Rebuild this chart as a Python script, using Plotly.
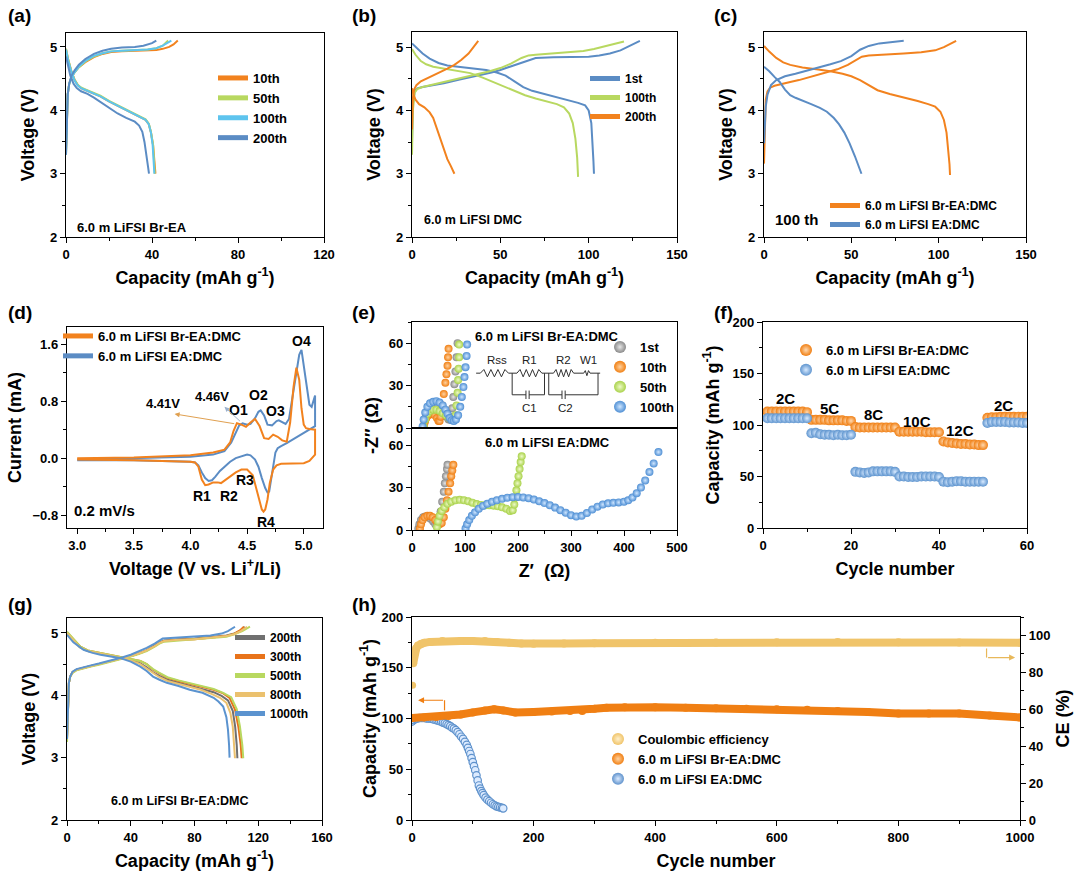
import plotly.graph_objects as go

FONT = "Liberation Sans, Arial, sans-serif"
W, H = 1080, 878

# ---------------- DATA ----------------
# (a) 6.0 m LiFSI Br-EA
a10_ch_x = [0, 0.3, 0.8, 1.5, 2.5, 4, 6, 9, 13, 17, 21, 26, 32, 38, 42, 45, 48, 50, 52]
a10_ch_y = [3.35, 3.9, 4.25, 4.42, 4.52, 4.6, 4.68, 4.76, 4.84, 4.89, 4.92, 4.93, 4.935, 4.94, 4.95, 4.97, 5.0, 5.04, 5.1]
a10_dc_x = [0, 1, 2.5, 4, 5.5, 7, 9, 12, 16, 20, 24, 28, 32, 35, 37, 38.5, 39.5, 40.5, 41.2, 41.6]
a10_dc_y = [4.97, 4.8, 4.62, 4.48, 4.4, 4.35, 4.32, 4.28, 4.22, 4.14, 4.07, 4.0, 3.94, 3.89, 3.85, 3.78, 3.65, 3.45, 3.2, 3.0]
a50_ch_x = [0, 0.3, 0.8, 1.5, 2.5, 4, 6, 9, 13, 17, 21, 26, 32, 38, 42, 45, 47.5]
a50_ch_y = [3.3, 3.9, 4.25, 4.42, 4.52, 4.6, 4.68, 4.77, 4.85, 4.9, 4.93, 4.94, 4.95, 4.96, 4.98, 5.02, 5.1]
a50_dc_x = [0, 1, 2.5, 4, 5.5, 7, 9, 12, 16, 20, 24, 28, 32, 35, 37, 38.5, 39.5, 40.5, 41, 41.3]
a50_dc_y = [4.97, 4.8, 4.62, 4.48, 4.4, 4.36, 4.33, 4.29, 4.23, 4.15, 4.08, 4.01, 3.95, 3.9, 3.86, 3.79, 3.66, 3.46, 3.2, 3.0]
a100_ch_x = [0, 0.3, 0.8, 1.5, 2.5, 4, 6, 9, 13, 17, 21, 26, 32, 38, 42, 45, 49]
a100_ch_y = [3.3, 3.9, 4.25, 4.42, 4.52, 4.6, 4.69, 4.78, 4.86, 4.9, 4.93, 4.94, 4.95, 4.96, 4.98, 5.02, 5.1]
a100_dc_x = [0, 1, 2.5, 4, 5.5, 7, 9, 12, 16, 20, 24, 28, 32, 35, 37, 38.5, 39.5, 40.3, 40.8, 41.1]
a100_dc_y = [4.96, 4.79, 4.61, 4.47, 4.39, 4.35, 4.32, 4.28, 4.22, 4.14, 4.07, 4.0, 3.94, 3.89, 3.85, 3.78, 3.65, 3.45, 3.2, 3.0]
a200_ch_x = [0, 0.3, 0.8, 1.5, 2.5, 4, 6, 9, 13, 17, 21, 26, 32, 36, 40, 42]
a200_ch_y = [3.3, 3.9, 4.25, 4.42, 4.54, 4.63, 4.72, 4.81, 4.89, 4.94, 4.97, 4.99, 5.0, 5.02, 5.06, 5.1]
a200_dc_x = [0, 1, 2, 3.5, 5, 7, 10, 13, 16, 20, 24, 28, 32, 34, 35.5, 36.5, 37.5, 38.2, 38.6]
a200_dc_y = [4.85, 4.7, 4.55, 4.42, 4.35, 4.3, 4.26, 4.2, 4.13, 4.05, 3.95, 3.88, 3.82, 3.76, 3.66, 3.5, 3.3, 3.1, 3.0]

# (b) 6.0 m LiFSI DMC
b1_ch_x = [0, 0.5, 1.5, 3, 6, 10, 18, 27, 37, 45, 50, 55, 60, 65, 68, 70, 80, 90, 100, 106, 112, 118, 122, 126, 129]
b1_ch_y = [3.5, 4.1, 4.3, 4.35, 4.37, 4.39, 4.43, 4.49, 4.55, 4.6, 4.64, 4.69, 4.74, 4.79, 4.82, 4.83, 4.84, 4.845, 4.85, 4.87, 4.9, 4.95, 5.0, 5.05, 5.1]
b1_dc_x = [0, 3, 6, 10, 15, 20, 27, 35, 42, 48, 53, 58, 63, 68, 75, 82, 88, 94, 98, 100, 101.5, 102.3, 102.7, 103]
b1_dc_y = [5.06, 4.98, 4.9, 4.82, 4.75, 4.71, 4.69, 4.67, 4.64, 4.6, 4.55, 4.46, 4.37, 4.31, 4.26, 4.2, 4.16, 4.12, 4.08, 4.0, 3.8, 3.5, 3.2, 3.0]
b100_ch_x = [0, 0.5, 1.5, 3, 6, 12, 20, 28, 36, 44, 50, 56, 62, 66, 70, 80, 90, 97, 103, 109, 115, 120]
b100_ch_y = [3.3, 4.0, 4.28, 4.34, 4.37, 4.41, 4.46, 4.51, 4.56, 4.62, 4.67, 4.74, 4.83, 4.87, 4.88, 4.9, 4.92, 4.94, 4.97, 5.01, 5.05, 5.09]
b100_dc_x = [0, 2, 5, 8, 12, 18, 25, 33, 40, 46, 52, 58, 64, 70, 76, 82, 86, 89, 91, 92.5, 93.5, 94]
b100_dc_y = [4.97, 4.88, 4.78, 4.73, 4.69, 4.66, 4.63, 4.59, 4.52, 4.45, 4.38, 4.3, 4.24, 4.19, 4.15, 4.1, 4.05, 3.95, 3.8, 3.55, 3.25, 2.95]
b200_ch_x = [0, 0.5, 1.2, 2.5, 5, 8, 12, 16, 20, 24, 28, 32, 35, 37.5]
b200_ch_y = [3.7, 4.2, 4.33, 4.4, 4.46, 4.5, 4.55, 4.6, 4.66, 4.72, 4.8, 4.9, 5.0, 5.1]
b200_dc_x = [0, 0.8, 2, 4, 7, 10, 12, 14, 16, 18, 20, 22, 24]
b200_dc_y = [4.35, 4.25, 4.17, 4.1, 4.05, 3.97, 3.88, 3.72, 3.55, 3.38, 3.23, 3.12, 3.0]

# (c) 100th cycle
c_br_ch_x = [0, 0.4, 1, 2, 3.5, 6, 10, 15, 20, 28, 35, 42, 48, 52, 56, 60, 70, 80, 90, 98, 103, 107, 110]
c_br_ch_y = [3.16, 3.8, 4.17, 4.3, 4.36, 4.39, 4.42, 4.45, 4.48, 4.54, 4.59, 4.65, 4.72, 4.78, 4.85, 4.87, 4.88, 4.9, 4.92, 4.95, 5.0, 5.05, 5.1]
c_br_dc_x = [0, 3, 7, 11, 15, 22, 30, 38, 45, 50, 55, 60, 65, 72, 80, 88, 94, 98, 101, 103, 104.5, 105.5, 106.2, 106.5]
c_br_dc_y = [5.02, 4.93, 4.83, 4.76, 4.72, 4.68, 4.65, 4.62, 4.58, 4.54, 4.48, 4.4, 4.32, 4.26, 4.21, 4.15, 4.1, 4.06, 3.98, 3.85, 3.65, 3.4, 3.15, 2.98]
c_ea_ch_x = [0, 0.4, 1, 2, 4, 7, 12, 18, 25, 32, 38, 44, 50, 55, 60, 66, 73, 80]
c_ea_ch_y = [3.48, 3.85, 4.06, 4.25, 4.4, 4.48, 4.54, 4.58, 4.63, 4.68, 4.73, 4.78, 4.86, 4.96, 5.02, 5.06, 5.08, 5.1]
c_ea_dc_x = [0, 3, 6, 9, 12, 15, 18, 22, 27, 32, 36, 40, 43, 46, 49, 52, 54, 55.8]
c_ea_dc_y = [4.69, 4.62, 4.53, 4.45, 4.33, 4.24, 4.2, 4.15, 4.1, 4.04, 3.98, 3.88, 3.78, 3.65, 3.48, 3.28, 3.13, 3.0]

# (d) CV
d_br_v = [3.0, 3.5, 4.0, 4.2, 4.3, 4.35, 4.38, 4.41, 4.45, 4.49, 4.53, 4.57, 4.61, 4.65, 4.69, 4.73, 4.77, 4.81, 4.85,
          4.88, 4.91, 4.935, 4.96, 4.98, 5.0, 5.02, 5.05, 5.1,
          5.1, 5.05, 5.0, 4.9, 4.8, 4.76, 4.73, 4.7, 4.68, 4.66, 4.645, 4.63, 4.61, 4.58, 4.55, 4.5, 4.45, 4.4, 4.35,
          4.3, 4.27, 4.24, 4.2, 4.16, 4.13, 4.1, 4.07, 4.04, 4.0, 3.5, 3.0]
d_br_i = [0.0, 0.01, 0.04, 0.08, 0.12, 0.22, 0.38, 0.49, 0.47, 0.44, 0.5, 0.55, 0.45, 0.28, 0.27, 0.33, 0.3, 0.25, 0.23,
          0.5, 1.0, 1.27, 1.1, 0.7, 0.47, 0.42, 0.41, 0.4,
          0.05, -0.04, -0.07, -0.07, -0.08, -0.1, -0.16, -0.35, -0.58, -0.72, -0.75, -0.72, -0.6, -0.4, -0.24, -0.16,
          -0.16, -0.2, -0.26, -0.31, -0.35, -0.34, -0.34, -0.37, -0.38, -0.3, -0.12, -0.06, -0.05, -0.03, -0.02]
d_ea_v = [3.0, 3.5, 4.0, 4.2, 4.3, 4.36, 4.4, 4.43, 4.46, 4.5, 4.53, 4.57, 4.6, 4.62, 4.65, 4.68, 4.72, 4.76, 4.78,
          4.81, 4.84, 4.87, 4.9, 4.93, 4.96, 4.98, 5.0, 5.03, 5.05, 5.07, 5.1,
          5.1, 5.05, 5.0, 4.95, 4.9, 4.85, 4.8, 4.77, 4.75, 4.73, 4.71, 4.695, 4.68, 4.66, 4.63, 4.6, 4.57, 4.53, 4.5,
          4.45, 4.4, 4.35, 4.3, 4.26, 4.22, 4.19, 4.16, 4.13, 4.1, 4.07, 4.04, 4.0, 3.5, 3.0]
d_ea_i = [-0.02, 0.0, 0.02, 0.05, 0.1, 0.22, 0.36, 0.46, 0.49, 0.47, 0.48, 0.56, 0.65, 0.67, 0.6, 0.47, 0.46, 0.52, 0.53,
          0.5, 0.48, 0.55, 0.85, 1.2, 1.45, 1.52, 1.3, 0.95, 0.75, 0.72, 0.88,
          0.45, 0.4, 0.35, 0.31, 0.26, 0.21, 0.17, 0.14, 0.08, -0.1, -0.3, -0.47, -0.48, -0.42, -0.28, -0.12, -0.02,
          0.04, 0.05, 0.03, 0.0, -0.05, -0.12, -0.18, -0.26, -0.31, -0.32, -0.28, -0.2, -0.1, -0.06, -0.05, -0.03, -0.03]

# (e) EIS, Br-EA:DMC (upper)
eu1_x = [22, 24, 27, 31, 36, 42, 48, 54, 60, 65, 69, 72, 74, 76, 78, 80, 82, 84, 86]
eu1_y = [1, 5, 9, 12, 14, 15, 14.5, 13, 11, 8, 6, 6, 8, 14, 22, 31, 40, 50, 60]
eu10_x = [22, 24, 27, 31, 35, 39, 43, 47, 50, 52, 54, 57, 60, 63, 65, 67, 68, 69]
eu10_y = [1, 4, 7, 9, 10, 10, 9, 7, 5, 5, 8, 16, 24, 32, 38, 44, 50, 56]
eu50_x = [22, 25, 29, 34, 40, 46, 52, 58, 64, 70, 75, 79, 82, 84, 86, 87, 88, 89, 89]
eu50_y = [1, 6, 10, 12, 13, 13, 12, 10.5, 9, 7, 6, 6, 9, 16, 25, 34, 42, 50, 59]
eu100_x = [20, 22, 25, 29, 34, 40, 46, 52, 58, 63, 67, 71, 75, 79, 83, 87, 91, 94, 97, 99, 101, 103, 104]
eu100_y = [1, 6, 11, 15, 17.5, 18.5, 19, 18, 16, 13, 10, 7, 5.5, 5, 6, 9, 15, 22, 29, 36, 43, 51, 59]
# (e) EIS, EA:DMC (lower)
el1_x = [12, 14, 17, 21, 25, 30, 35, 40, 44, 48, 51, 54, 57, 60, 62, 64, 66, 67]
el1_y = [1, 4, 7, 9, 9.5, 9, 8, 6, 4, 4, 7, 13, 20, 27, 33, 38, 43, 46]
el10_x = [15, 17, 20, 24, 29, 34, 39, 44, 48, 52, 56, 60, 63, 66, 69, 72, 74, 76, 78]
el10_y = [1, 4, 7, 9, 10, 10, 9, 7, 5, 4, 5, 9, 15, 21, 27, 33, 38, 42, 46]
el50_x = [47, 49, 52, 56, 61, 67, 74, 82, 90, 98, 106, 114, 122, 130, 138, 146, 154, 162, 170, 178, 185, 190, 193, 195,
          197, 199, 201, 203, 205, 207]
el50_y = [2, 6, 10, 13.5, 16, 18.5, 20, 21, 21.3, 21, 20.3, 19.3, 18.3, 17.7, 17.4, 17.4, 17.2, 16.8, 16, 15, 13.5, 14,
          18, 23, 28, 33, 38, 43, 48, 52]
el100_x = [101, 104, 108, 113, 119, 126, 134, 142, 151, 160, 170, 180, 190, 200, 210, 220, 230, 240, 250, 260, 270, 280,
           290, 300, 310, 320, 330, 340, 350, 360, 370, 380, 390, 400, 408, 416, 424, 432, 440, 448, 456, 465]
el100_y = [1, 4, 7, 10, 12.5, 15, 17, 18.5, 20, 21, 22, 22.8, 23.2, 23.3, 23, 22.5, 21.5, 20.3, 19, 17.5, 15.8, 14,
           12.2, 10.5, 9.5, 10, 12, 14.5, 16.5, 18, 18.8, 19.2, 19.5, 20, 21, 23, 26, 30, 35, 41, 47, 55]

# (f) rate capability
f_cycles = list(range(1, 61))
f_br = [113, 113, 113, 113, 113, 113, 113, 113, 113, 112.5,
        105, 105, 105, 105, 104.5, 104.5, 104.5, 104.5, 104, 104,
        98, 97.5, 97.5, 97.5, 97.5, 97.5, 97.5, 97.5, 97.5, 97.5,
        93.5, 93.5, 93.5, 93.5, 93.5, 93.5, 93, 93, 93, 93,
        84, 83, 82.5, 82, 81.5, 81.5, 81, 81, 80.5, 80.5,
        107, 107.5, 107.5, 108, 108, 108, 108, 108, 108, 108]
f_ea = [106.5, 106.5, 106.5, 106.5, 106.5, 106.5, 106.5, 106.5, 106.5, 106.5,
        92, 92.5, 91, 90.5, 90.5, 90, 90.5, 90, 90, 90.5,
        54.5, 54, 53.5, 54, 55, 55, 55, 55, 55, 54.5,
        50, 50, 49.5, 49.5, 49.5, 50, 50, 50, 50, 49.5,
        45, 44.5, 45, 45.5, 45.5, 45, 45, 45, 45, 45,
        102, 103, 103, 103, 103, 102.5, 102.5, 102.5, 102, 102]
f_rates = ["2C", "5C", "8C", "10C", "12C", "2C"]
f_rate_x = [5.2, 15.2, 25, 35, 44.8, 54.7]
f_rate_y = [126, 116, 110, 103, 95, 119]

# (g) Br-EA:DMC long cycles
g200_ch_x = [0, 0.5, 1.2, 2, 3.5, 6, 10, 15, 20, 25, 30, 35, 40, 45, 50, 55, 58, 61, 65, 70, 80, 90, 100, 105, 109, 111.5]
g200_ch_y = [3.3, 3.9, 4.2, 4.3, 4.37, 4.41, 4.44, 4.47, 4.5, 4.53, 4.56, 4.59, 4.63, 4.67, 4.72, 4.8, 4.85, 4.88, 4.89,
             4.9, 4.91, 4.93, 4.96, 4.99, 5.04, 5.1]
g300_ch_x = [0, 0.5, 1.2, 2, 3.5, 6, 10, 15, 20, 25, 30, 35, 40, 45, 50, 55, 58, 61, 65, 70, 80, 90, 100, 105, 108.5, 111]
g300_ch_y = [3.3, 3.9, 4.2, 4.3, 4.37, 4.41, 4.44, 4.47, 4.5, 4.53, 4.56, 4.59, 4.63, 4.67, 4.72, 4.79, 4.84, 4.87, 4.88,
             4.89, 4.9, 4.92, 4.95, 4.99, 5.04, 5.1]
g500_ch_x = [0, 0.5, 1.2, 2, 3.5, 6, 10, 15, 20, 25, 30, 35, 40, 45, 50, 55, 58, 61, 65, 70, 80, 90, 100, 105, 110, 114.8]
g500_ch_y = [3.25, 3.9, 4.2, 4.3, 4.36, 4.4, 4.43, 4.46, 4.49, 4.52, 4.55, 4.58, 4.62, 4.66, 4.71, 4.78, 4.83, 4.86, 4.87,
             4.88, 4.9, 4.92, 4.94, 4.98, 5.03, 5.1]
g800_ch_x = [0, 0.5, 1.2, 2, 3.5, 6, 10, 15, 20, 25, 30, 35, 40, 45, 50, 55, 58, 61, 65, 70, 80, 90, 100, 105, 109, 113]
g800_ch_y = [3.3, 3.9, 4.2, 4.3, 4.37, 4.41, 4.44, 4.47, 4.5, 4.53, 4.56, 4.59, 4.63, 4.67, 4.72, 4.79, 4.84, 4.87, 4.88,
             4.89, 4.9, 4.92, 4.95, 4.98, 5.03, 5.1]
g1000_ch_x = [0, 0.5, 1.2, 2, 3.5, 6, 10, 15, 20, 25, 30, 35, 40, 45, 50, 55, 58, 60, 65, 70, 80, 90, 97, 101, 105.4]
g1000_ch_y = [3.3, 3.9, 4.2, 4.3, 4.38, 4.42, 4.45, 4.48, 4.51, 4.54, 4.57, 4.61, 4.65, 4.7, 4.76, 4.83, 4.88, 4.91,
              4.92, 4.93, 4.94, 4.96, 4.99, 5.03, 5.1]
g200_dc_x = [0, 4, 8, 13, 17, 24, 31, 38, 46, 50, 54, 58, 63, 70, 76, 84, 92, 97, 101, 104, 105.5, 106.5, 106.9]
g200_dc_y = [5.0, 4.88, 4.77, 4.71, 4.69, 4.65, 4.62, 4.58, 4.51, 4.45, 4.37, 4.31, 4.25, 4.2, 4.16, 4.11, 4.05, 3.99,
             3.92, 3.75, 3.5, 3.2, 2.99]
g300_dc_x = [0, 4, 8.4, 13, 17, 24, 31, 38, 46, 50, 54, 58, 63, 70, 75, 84, 92, 98, 102, 105.4, 107.5, 109, 109.6]
g300_dc_y = [5.01, 4.9, 4.78, 4.72, 4.7, 4.66, 4.63, 4.6, 4.55, 4.5, 4.41, 4.35, 4.28, 4.23, 4.2, 4.15, 4.09, 4.03,
             3.96, 3.77, 3.5, 3.2, 2.99]
g500_dc_x = [0, 4, 8.4, 13, 17, 24, 31, 38, 46, 50, 54, 58, 63, 70, 75, 84, 92, 98, 103, 106.5, 108.5, 110, 110.6]
g500_dc_y = [5.02, 4.9, 4.78, 4.72, 4.7, 4.66, 4.63, 4.6, 4.55, 4.5, 4.42, 4.36, 4.29, 4.24, 4.21, 4.16, 4.1, 4.04,
             3.97, 3.78, 3.5, 3.2, 2.99]
g800_dc_x = [0, 4, 8, 13, 17, 24, 31, 38, 46, 50, 54, 58, 63, 70, 76, 84, 91, 96, 100, 102.5, 104, 105, 105.4]
g800_dc_y = [5.0, 4.88, 4.77, 4.71, 4.69, 4.65, 4.62, 4.58, 4.5, 4.43, 4.35, 4.29, 4.23, 4.18, 4.14, 4.09, 4.02, 3.96,
             3.88, 3.72, 3.5, 3.2, 2.99]
g1000_dc_x = [0, 4, 10.4, 16, 21, 27, 33, 40, 46, 50, 54, 58, 62.6, 70, 77, 85, 92, 95, 98, 100, 101, 101.7, 102]
g1000_dc_y = [4.97, 4.85, 4.73, 4.68, 4.65, 4.62, 4.6, 4.54, 4.46, 4.39, 4.3, 4.25, 4.2, 4.15, 4.09, 4.04, 3.96, 3.9,
              3.82, 3.65, 3.45, 3.2, 3.0]

# (h) long-term cycling
h_br_cycle = [0, 20, 40, 60, 80, 100, 120, 135, 150, 170, 200, 230, 260, 280, 300, 320, 350, 400, 450, 500, 550, 600,
              650, 700, 750, 800, 850, 900, 950, 1000]
h_br_cap = [100.5, 101, 101.5, 102.5, 104, 106, 108, 109, 108, 106, 106.5, 107, 107.5, 107.5, 109.5, 110.5, 111, 111,
            110.5, 110, 109.5, 109, 108.5, 107.5, 106.5, 105, 105, 105, 103, 101]
h_ea_cycle = [0, 3, 6, 9, 12, 15, 18, 21, 24, 27, 30, 33, 36, 39, 42, 45, 48, 51, 54, 57, 60, 63, 66, 69, 72, 75, 78,
              81, 84, 87, 90, 92, 94, 96, 98, 100, 102, 104, 106, 108, 110, 112, 114, 116, 118, 121, 124, 127, 130, 133,
              136, 139, 142, 145, 148, 150]
h_ea_cap = [97, 98.5, 99.5, 100, 100.5, 100.5, 100.5, 100.5, 100, 100, 100, 99.5, 99, 98.5, 98, 97.5, 97, 96, 95.5,
            94.5, 93.5, 92.5, 91, 90, 88.5, 86.5, 84.5, 82, 80, 77, 74, 71, 68, 65, 61, 57, 53, 49, 44, 39, 34, 31,
            28.5, 26.5, 24.5, 22, 20, 18.5, 17, 15.5, 14.5, 13.5, 13, 12.5, 12, 11.5]
h_ce_cycle = [1, 2, 3, 4, 5, 7, 10, 15, 20, 30, 50, 80, 100, 120, 140, 160, 180, 200, 250, 300, 400, 500, 600, 700, 800,
              900, 1000]
h_ce = [73, 85, 88, 90, 91.5, 93, 94.5, 95.5, 96, 96.5, 97, 97, 97, 97, 96.5, 96, 95.7, 95.5, 95.6, 95.8, 96, 96.2,
        96.3, 96.4, 96.3, 96.2, 96]

# ---------------- COLOURS ----------------
ORANGE = "#F2821E"
BLUE = "#5B8CC4"
GREEN = "#B8D860"
LBLUE = "#5EC4EE"
GRAY = "#707070"
TAN = "#EBC16E"


def px_x(a, b):
    return [a / W, b / W]


def px_y(top, bottom):
    return [1 - bottom / H, 1 - top / H]


def axis(domain, rng, dtick, minor, anchor, title=None, tick0=0, fmt=None, labels=True, standoff=6,
         tsize=13, ticks="outside"):
    d = dict(domain=domain, range=rng, tickmode="linear", dtick=dtick, tick0=tick0, showline=True,
             linecolor="black", linewidth=1.4, mirror=True, ticks=ticks, ticklen=5, tickwidth=1.3,
             tickcolor="black", showgrid=False, zeroline=False, anchor=anchor, showticklabels=labels,
             tickfont=dict(family=FONT, size=tsize, color="black", weight="bold"))
    if minor:
        d["minor"] = dict(dtick=minor, tick0=tick0, ticks="outside", ticklen=3, tickwidth=1, tickcolor="black",
                          showgrid=False)
    if title:
        d["title"] = dict(text=title, font=dict(family=FONT, size=18, color="black", weight="bold"),
                          standoff=standoff)
    if fmt:
        d["tickformat"] = fmt
    return d


def leg(x_px, y_px, size=13, order="normal"):
    return dict(x=x_px / W, y=1 - y_px / H, xanchor="left", yanchor="top", bgcolor="rgba(0,0,0,0)",
                borderwidth=0, font=dict(family=FONT, size=size, color="black", weight="bold"),
                itemwidth=30, tracegroupgap=0, itemsizing="constant", traceorder=order)


fig = go.Figure()


def line(x, y, color, name, n, lg, show=True, width=2):
    fig.add_trace(go.Scatter(x=x, y=y, mode="lines", line=dict(color=color, width=width), name=name,
                             xaxis="x" + n, yaxis="y" + n, legend=lg, showlegend=show))


def dots(x, y, color, light, name, n, lg, show=True, size=9):
    fig.add_trace(go.Scatter(x=x, y=y, mode="markers", name=name, xaxis="x" + n, yaxis="y" + n, legend=lg,
                             showlegend=show,
                             marker=dict(size=size, color=color, line=dict(width=0),
                                         gradient=dict(type="radial", color=light))))


# (a)
for cx, cy, dxx, dyy, col, nm in [(a10_ch_x, a10_ch_y, a10_dc_x, a10_dc_y, ORANGE, "10th"),
                                  (a50_ch_x, a50_ch_y, a50_dc_x, a50_dc_y, GREEN, "50th"),
                                  (a100_ch_x, a100_ch_y, a100_dc_x, a100_dc_y, LBLUE, "100th"),
                                  (a200_ch_x, a200_ch_y, a200_dc_x, a200_dc_y, BLUE, "200th")]:
    line(cx, cy, col, nm, "", "legend")
    line(dxx, dyy, col, nm, "", "legend", show=False)

# (b)
for cx, cy, dxx, dyy, col, nm in [(b1_ch_x, b1_ch_y, b1_dc_x, b1_dc_y, BLUE, "1st"),
                                  (b100_ch_x, b100_ch_y, b100_dc_x, b100_dc_y, GREEN, "100th"),
                                  (b200_ch_x, b200_ch_y, b200_dc_x, b200_dc_y, ORANGE, "200th")]:
    line(cx, cy, col, nm, "2", "legend2")
    line(dxx, dyy, col, nm, "2", "legend2", show=False)

# (c)
line(c_br_ch_x, c_br_ch_y, ORANGE, "6.0 m LiFSI Br-EA:DMC", "3", "legend3")
line(c_br_dc_x, c_br_dc_y, ORANGE, "6.0 m LiFSI Br-EA:DMC", "3", "legend3", show=False)
line(c_ea_ch_x, c_ea_ch_y, BLUE, "6.0 m LiFSI EA:DMC", "3", "legend3")
line(c_ea_dc_x, c_ea_dc_y, BLUE, "6.0 m LiFSI EA:DMC", "3", "legend3", show=False)

# (d)
line(d_ea_v, d_ea_i, BLUE, "6.0 m LiFSI EA:DMC", "4", "legend4")
line(d_br_v, d_br_i, ORANGE, "6.0 m LiFSI Br-EA:DMC", "4", "legend4")

# (e)
E_COL = [("#8A8A8A", "#E6E6E6", "1st"), ("#F07F13", "#FFD2A0", "10th"), ("#A9D24A", "#EEFAC8", "50th"),
         ("#4F8FD4", "#CFE6FF", "100th")]
for (col, light, nm), xs, ys in zip(E_COL, [eu1_x, eu10_x, eu50_x, eu100_x], [eu1_y, eu10_y, eu50_y, eu100_y]):
    dots(xs, ys, col, light, nm, "5", "legend5", size=8)
for (col, light, nm), xs, ys in zip(E_COL, [el1_x, el10_x, el50_x, el100_x], [el1_y, el10_y, el50_y, el100_y]):
    dots(xs, ys, col, light, nm, "6", "legend5", show=False, size=8)

# (f)
dots(f_cycles, f_br, "#F07F13", "#FFD9B0", "6.0 m LiFSI Br-EA:DMC", "7", "legend6", size=10)
dots(f_cycles, f_ea, "#5F95CF", "#D8EAFF", "6.0 m LiFSI EA:DMC", "7", "legend6", size=10)

# (g)
for cx, cy, dxx, dyy, col, nm in [(g200_ch_x, g200_ch_y, g200_dc_x, g200_dc_y, GRAY, "200th"),
                                  (g300_ch_x, g300_ch_y, g300_dc_x, g300_dc_y, "#E8731A", "300th"),
                                  (g500_ch_x, g500_ch_y, g500_dc_x, g500_dc_y, GREEN, "500th"),
                                  (g800_ch_x, g800_ch_y, g800_dc_x, g800_dc_y, TAN, "800th"),
                                  (g1000_ch_x, g1000_ch_y, g1000_dc_x, g1000_dc_y, "#5B93CF", "1000th")]:
    line(cx, cy, col, nm, "8", "legend7")
    line(dxx, dyy, col, nm, "8", "legend7", show=False)

# (h)
CE_C, CE_L = "#F0C46A", "#FFF0CC"
BR_C, BR_L = "#F07F13", "#FFD2A0"
EA_C, EA_L = "#5F92CC", "#DCEBFF"
fig.add_trace(go.Scatter(x=h_ce_cycle[1:], y=h_ce[1:], mode="lines+markers", xaxis="x9", yaxis="y10",
                         line=dict(color=CE_C, width=8), marker=dict(size=8, color=CE_C), showlegend=False))
fig.add_trace(go.Scatter(x=h_ce_cycle[:1], y=h_ce[:1], mode="markers", xaxis="x9", yaxis="y10",
                         marker=dict(size=7, color=CE_C), showlegend=False))
fig.add_trace(go.Scatter(x=h_ea_cycle, y=h_ea_cap, mode="markers", xaxis="x9", yaxis="y9", showlegend=False,
                         marker=dict(size=7.5, color=EA_L, line=dict(color=EA_C, width=1.2))))
fig.add_trace(go.Scatter(x=h_br_cycle, y=h_br_cap, mode="lines+markers", xaxis="x9", yaxis="y9", showlegend=False,
                         line=dict(color=BR_C, width=8), marker=dict(size=8, color=BR_C)))
for col, light, nm in [(CE_C, CE_L, "Coulombic efficiency"), (BR_C, BR_L, "6.0 m LiFSI Br-EA:DMC"),
                       (EA_C, EA_L, "6.0 m LiFSI EA:DMC")]:
    fig.add_trace(go.Scatter(x=[None], y=[None], mode="markers", name=nm, xaxis="x9", yaxis="y9",
                             legend="legend8",
                             marker=dict(size=10, color=col, gradient=dict(type="radial", color=light))))

CAP = "Capacity (mAh g<sup>-1</sup>)"
layout = dict(
    width=W, height=H, margin=dict(l=0, r=0, t=0, b=0, autoexpand=False), autosize=False,
    paper_bgcolor="white", plot_bgcolor="white",
    font=dict(family=FONT, color="black"),
    xaxis=axis(px_x(66, 324), [0, 120], 40, 20, "y", CAP, standoff=10),
    yaxis=axis(px_y(33, 237), [2, 5.22], 1, 0.5, "x", "Voltage (V)", standoff=10),
    xaxis2=axis(px_x(412, 677), [0, 150], 50, 25, "y2", CAP, standoff=10),
    yaxis2=axis(px_y(32, 237), [2, 5.24], 1, 0.5, "x2", "Voltage (V)", standoff=10),
    xaxis3=axis(px_x(764, 1026), [0, 150], 50, 25, "y3", CAP, standoff=10),
    yaxis3=axis(px_y(32, 237), [2, 5.24], 1, 0.5, "x3", "Voltage (V)", standoff=10),
    xaxis4=axis(px_x(67, 323), [2.91, 5.17], 0.5, 0.25, "y4", "Voltage (V vs. Li<sup>+</sup>/Li)", fmt=".1f",
                standoff=10),
    yaxis4=axis(px_y(327, 528), [-0.98, 1.84], 0.8, 0.4, "x4", "Current (mA)", tick0=-0.8, fmt=".1f", standoff=6),
    xaxis5=axis(px_x(412, 677), [0, 500], 100, None, "y5", labels=False, ticks=""),
    yaxis5=axis(px_y(322, 428), [0, 75], 30, 15, "x5"),
    xaxis6=axis(px_x(412, 677), [0, 500], 100, 50, "y6", "Z′  (Ω)", standoff=10),
    yaxis6=axis(px_y(428, 530), [0, 72], 30, 15, "x6"),
    xaxis7=axis(px_x(763, 1027), [0, 60], 20, 10, "y7", "Cycle number", standoff=10),
    yaxis7=axis(px_y(322, 528), [0, 200], 50, 25, "x7", CAP, standoff=8),
    xaxis8=axis(px_x(67, 322), [0, 160], 40, 20, "y8", CAP, standoff=10),
    yaxis8=axis(px_y(618, 820), [2, 5.24], 1, 0.5, "x8", "Voltage (V)", standoff=10),
    xaxis9=axis(px_x(412, 1020), [0, 1000], 200, 100, "y9", "Cycle number", standoff=10, tsize=13),
    yaxis9=axis(px_y(617, 820), [0, 200], 50, 25, "x9", CAP, standoff=0, tsize=13),
    legend=leg(213, 63),
    legend2=leg(585, 64, 12),
    legend3=leg(825, 191, 12),
    legend4=leg(58, 321, order="reversed"),
    legend5=leg(600, 332, 13),
    legend6=leg(786, 335),
    legend7=leg(230, 623, 12),
    legend8=leg(598, 724, 13),
)
y10 = axis(px_y(617, 820), [0, 110], 20, 10, "x9", "CE (%)", standoff=6, tsize=13)
y10.update(overlaying="y9", side="right", mirror=False)
layout["yaxis10"] = y10
fig.update_layout(**layout)

# panel letters
for lab, xp, yp in [("(a)", 6, 16), ("(b)", 350, 16), ("(c)", 712, 16), ("(d)", 6, 312), ("(e)", 350, 312),
                    ("(f)", 712, 312), ("(g)", 6, 604), ("(h)", 350, 604)]:
    fig.add_annotation(text=lab, x=xp / W, y=1 - yp / H, xref="paper", yref="paper", xanchor="left",
                       yanchor="middle", showarrow=False,
                       font=dict(family=FONT, size=19, color="black", weight="bold"))


def txt(t, x, y, n, size=13, xanchor="center", color="black"):
    fig.add_annotation(text=t, x=x, y=y, xref="x" + n, yref="y" + n, showarrow=False, xanchor=xanchor,
                       font=dict(family=FONT, size=size, color=color, weight="bold"))


txt("6.0 m LiFSI Br-EA", 4.2, 2.15, "", 13, "left")
txt("6.0 m LiFSI DMC", 5.7, 2.27, "2", 12.5, "left")
txt("100 th", 5.2, 2.27, "3", 15, "left")
txt("0.2 mV/s", 2.955, -0.74, "4", 15, "left")
for t, x, y in [("O1", 4.42, 0.68), ("O2", 4.6, 0.89), ("O3", 4.75, 0.66), ("O4", 4.98, 1.65), ("R1", 4.1, -0.53),
                ("R2", 4.34, -0.53), ("R3", 4.48, -0.3), ("R4", 4.67, -0.89)]:
    txt(t, x, y, "4", 14)
txt("4.41V", 3.76, 0.77, "4", 13)
txt("4.46V", 4.19, 0.87, "4", 13)
fig.add_annotation(x=3.86, y=0.62, ax=4.40, ay=0.48, xref="x4", yref="y4", axref="x4", ayref="y4", text="",
                   showarrow=True, arrowhead=2, arrowsize=1, arrowwidth=1, arrowcolor="#E0A050")
fig.add_annotation(x=4.30, y=0.72, ax=4.45, ay=0.50, xref="x4", yref="y4", axref="x4", ayref="y4", text="",
                   showarrow=True, arrowhead=2, arrowsize=1, arrowwidth=1, arrowcolor="#9AB0CC")
txt("6.0 m LiFSI Br-EA:DMC", 255, 65, "5", 13)
txt("6.0 m LiFSI EA:DMC", 255, 62, "6", 13)
fig.add_annotation(text="-Z″ (Ω)", x=372 / W, y=1 - 426 / H, xref="paper", yref="paper", textangle=-90,
                   showarrow=False, font=dict(family=FONT, size=18, color="black", weight="bold"))
for t, x, y in zip(f_rates, f_rate_x, f_rate_y):
    txt(t, x, y, "7", 15)
txt("6.0 m LiFSI Br-EA:DMC", 71, 2.3, "8", 12.5)


# equivalent circuit in (e)
def zig(x0, x1, y, n=4, amp=2.6):
    step = (x1 - x0) / (2 * n)
    pts = [(x0, y)] + [(x0 + k * step, y + (amp if k % 2 else -amp)) for k in range(1, 2 * n)] + [(x1, y)]
    return "M " + " L ".join(f"{a},{b}" for a, b in pts)


wy, by = 38.8, 23.5
paths = [f"M 121,{wy} L 129,{wy}", zig(129, 182, wy), f"M 182,{wy} L 198,{wy}", zig(198, 245, wy),
         f"M 245,{wy} L 267,{wy}", zig(267, 305, wy), f"M 305,{wy} L 324,{wy}", zig(324, 336, wy, 2, 1.8),
         f"M 336,{wy} L 355,{wy}",
         f"M 189,{wy} L 189,{by} L 215,{by}", f"M 215,{by - 3} L 215,{by + 3}", f"M 221,{by - 3} L 221,{by + 3}",
         f"M 221,{by} L 250,{by} L 250,{wy}",
         f"M 258,{wy} L 258,{by} L 283,{by}", f"M 283,{by - 3} L 283,{by + 3}", f"M 289,{by - 3} L 289,{by + 3}",
         f"M 289,{by} L 351,{by} L 351,{wy}"]
for p in paths:
    fig.add_shape(type="path", path=p, xref="x5", yref="y5", line=dict(color="#333333", width=1))
for t, x, y in [("Rss", 160, 48), ("R1", 222, 48), ("R2", 286, 48), ("W1", 333, 48), ("C1", 222, 14),
                ("C2", 290, 14)]:
    fig.add_annotation(text=t, x=x, y=y, xref="x5", yref="y5", showarrow=False,
                       font=dict(family=FONT, size=11.5, color="#222222"))

# arrows in (h)
fig.add_shape(type="line", x0=53.5, y0=108, x1=53.5, y1=118, xref="x9", yref="y9",
              line=dict(color=BR_C, width=1.2))
fig.add_annotation(x=10, y=118, ax=53.5, ay=118, xref="x9", yref="y9", axref="x9", ayref="y9", text="",
                   showarrow=True, arrowhead=2, arrowsize=1, arrowwidth=1.2, arrowcolor=BR_C)
fig.add_shape(type="line", x0=945, y0=169, x1=945, y1=160, xref="x9", yref="y9",
              line=dict(color="#E8B85A", width=1.2))
fig.add_annotation(x=992, y=160, ax=945, ay=160, xref="x9", yref="y9", axref="x9", ayref="y9", text="",
                   showarrow=True, arrowhead=2, arrowsize=1, arrowwidth=1.2, arrowcolor="#E8B85A")

fig.write_html("out.html", config=dict(displayModeBar=False),
               post_script="document.body.style.margin='0px';document.body.style.overflow='hidden';")
